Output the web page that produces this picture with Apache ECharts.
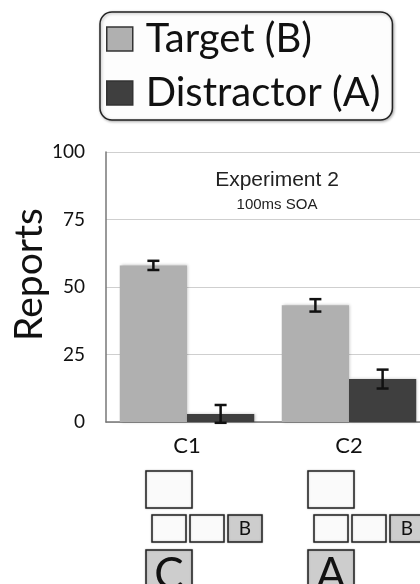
<!DOCTYPE html>
<html>
<head>
<meta charset="utf-8">
<script src="https://cdn.jsdelivr.net/npm/echarts@6/dist/echarts.min.js"></script>
<style>
html,body{margin:0;padding:0;background:#fff;}
#main{width:420px;height:584px;}
</style>
</head>
<body>
<div id="main"></div>
<script>
// ---- data ----
const categories = ['C1', 'C2'];
const seriesNames = ['Target (B)', 'Distractor (A)'];
const targetValues = [58, 43.2];
const targetErrors = [1.7, 2.3];
const distractorValues = [3, 15.9];
const distractorErrors = [3.3, 3.5];
const yTicks = [0, 25, 50, 75, 100];
const diagramBottomLetters = ['C', 'A'];
const diagramRowLetter = 'B';

const chart = echarts.init(document.getElementById('main'), null, {renderer: 'canvas'});
const GAP = 0.17;
const LABEL_FONT = 'Lato, "Open Sans", sans-serif';

function errRender(side) {
  return function (params, api) {
    const idx = api.value(0);
    const v = api.value(1), e = api.value(2);
    const band = api.size([1, 0])[0];
    const bw = band * (1 - GAP) / 2;
    const c = api.coord([idx, v]);
    const x = c[0] + side * bw / 2;
    const yHi = api.coord([idx, v + e])[1];
    const yLo = api.coord([idx, v - e])[1];
    const cap = 6;
    const st = {stroke: '#111', lineWidth: 2.5};
    return {
      type: 'group',
      children: [
        {type: 'line', shape: {x1: x, y1: yHi, x2: x, y2: yLo}, style: st},
        {type: 'line', shape: {x1: x - cap, y1: yHi, x2: x + cap, y2: yHi}, style: st},
        {type: 'line', shape: {x1: x - cap, y1: yLo, x2: x + cap, y2: yLo}, style: st}
      ]
    };
  };
}

const option = {
  animation: false,
  backgroundColor: '#ffffff',
  title: {
    text: 'Experiment 2',
    subtext: '100ms SOA',
    left: 272,
    top: 165,
    textAlign: 'center',
    itemGap: 6,
    textStyle: {fontFamily: '"Liberation Sans", Arial, sans-serif', fontSize: 21, fontWeight: 'normal', color: '#222'},
    subtextStyle: {fontFamily: '"Liberation Sans", Arial, sans-serif', fontSize: 15, color: '#222'}
  },
  legend: {
    data: seriesNames,
    orient: 'vertical',
    left: 100,
    top: 12,
    icon: 'rect',
    itemWidth: 26,
    itemHeight: 24,
    itemGap: 12,
    padding: [6, 12, 6, 6],
    borderColor: '#222',
    borderWidth: 1.5,
    borderRadius: 12,
    backgroundColor: '#fdfdfd',
    shadowBlur: 3,
    shadowColor: 'rgba(0,0,0,0.3)',
    shadowOffsetX: 1,
    shadowOffsetY: 1,
    itemStyle: {borderColor: '#333', borderWidth: 1.5},
    textStyle: {fontFamily: LABEL_FONT, fontSize: 40, lineHeight: 42, color: '#111', padding: [0, 0, 0, 8]}
  },
  grid: {left: 106, top: 152, width: 324, bottom: 162, containLabel: false, outerBoundsMode: 'none'},
  xAxis: {
    type: 'category',
    data: categories,
    axisTick: {show: false},
    axisLine: {lineStyle: {color: '#777', width: 1.5}},
    axisLabel: {fontFamily: LABEL_FONT, fontSize: 22, color: '#111', margin: 13}
  },
  yAxis: {
    type: 'value',
    min: 0,
    max: 100,
    interval: 25,
    name: 'Reports',
    nameLocation: 'middle',
    nameRotate: 90,
    nameGap: 57,
    nameMoveOverlap: false,
    nameTextStyle: {fontFamily: LABEL_FONT, fontSize: 39, color: '#111', padding: [0, 0, 0, 25]},
    axisLine: {show: true, lineStyle: {color: '#777', width: 1.5}},
    axisTick: {show: false},
    splitLine: {lineStyle: {color: '#cfcfcf', width: 1}},
    axisLabel: {
      fontFamily: LABEL_FONT, fontSize: 19, color: '#111', margin: 21,
      formatter: function (v) { return yTicks.indexOf(v) >= 0 ? String(v) : ''; }
    }
  },
  series: [
    {
      name: seriesNames[0], type: 'bar', data: targetValues,
      barGap: '0%', barCategoryGap: (GAP * 100) + '%',
      itemStyle: {color: '#b0b0b0', shadowBlur: 3, shadowColor: 'rgba(0,0,0,0.25)', shadowOffsetX: 1},
      z: 2
    },
    {
      name: seriesNames[1], type: 'bar', data: distractorValues,
      barGap: '0%', barCategoryGap: (GAP * 100) + '%',
      itemStyle: {color: '#3f3f3f', shadowBlur: 3, shadowColor: 'rgba(0,0,0,0.25)', shadowOffsetX: 1},
      z: 2
    },
    {
      name: 'targetErr', type: 'custom', renderItem: errRender(-1), z: 5,
      data: targetValues.map((v, i) => [i, v, targetErrors[i]]),
      encode: {x: 0, y: 1}
    },
    {
      name: 'distractorErr', type: 'custom', renderItem: errRender(1), z: 5,
      data: distractorValues.map((v, i) => [i, v, distractorErrors[i]]),
      encode: {x: 0, y: 1}
    }
  ]
};
chart.setOption(option);

// ---- stimulus diagrams under each category ----
const boxStroke = {stroke: '#222', lineWidth: 1.5, shadowBlur: 2, shadowColor: 'rgba(0,0,0,0.25)'};
const graphics = [];
categories.forEach(function (cat, i) {
  const cx = chart.convertToPixel({xAxisIndex: 0}, cat);
  graphics.push({type: 'rect', shape: {x: cx - 41, y: 471, width: 46, height: 37},
    style: Object.assign({fill: '#fafafa'}, boxStroke)});
  for (let k = 0; k < 3; k++) {
    const x = cx - 35 + k * 38;
    graphics.push({type: 'rect', shape: {x: x, y: 515, width: 34, height: 27},
      style: Object.assign({fill: k === 2 ? '#cdcdcd' : '#fafafa'}, boxStroke)});
    if (k === 2) {
      graphics.push({type: 'text', x: x + 17, y: 529,
        style: {text: diagramRowLetter, fontFamily: LABEL_FONT, fontSize: 19, fill: '#111', align: 'center', verticalAlign: 'middle'}});
    }
  }
  graphics.push({type: 'rect', shape: {x: cx - 41, y: 550, width: 46, height: 44},
    style: Object.assign({fill: '#cdcdcd'}, boxStroke)});
  graphics.push({type: 'text', x: cx - 18, y: 575,
    style: {text: diagramBottomLetters[i], fontFamily: LABEL_FONT, fontSize: 44, fill: '#111', align: 'center', verticalAlign: 'middle'}});
});
chart.setOption({graphic: graphics});
</script>
</body>
</html>
